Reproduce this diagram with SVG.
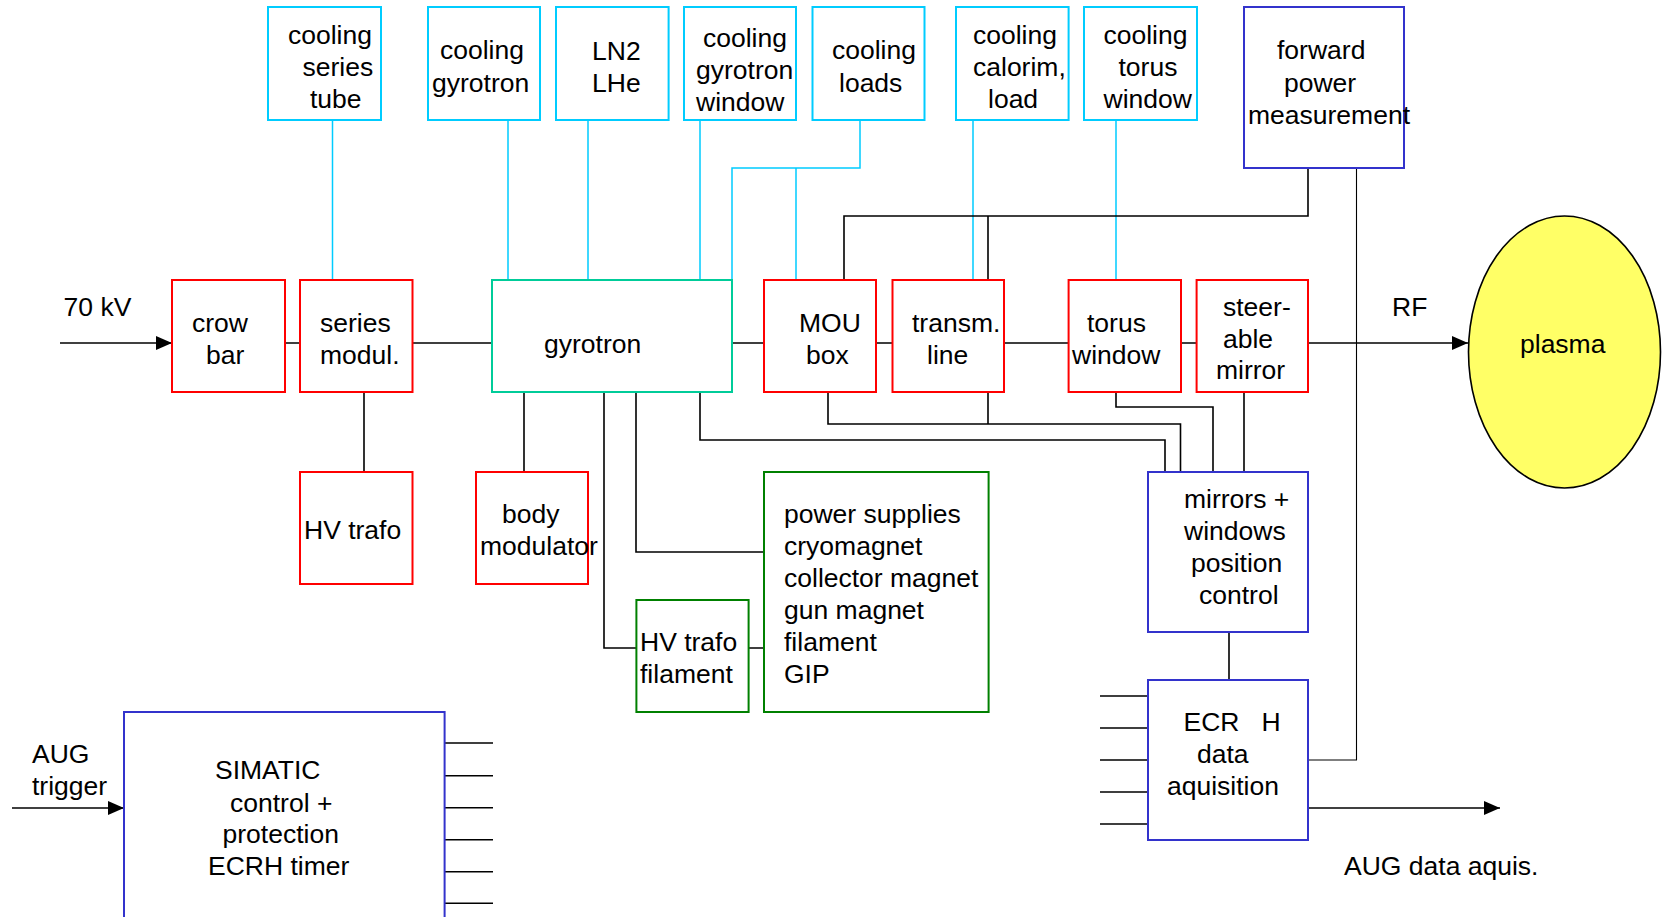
<svg xmlns="http://www.w3.org/2000/svg" width="1666" height="917" viewBox="0 0 1666 917">
<style>
text{font-family:"Liberation Sans",Arial,sans-serif;font-size:26.5px;fill:#000}
.cy{fill:#fff;stroke:#00CCFF;stroke-width:2}
.rd{fill:#fff;stroke:#FF0000;stroke-width:2}
.tl{fill:#fff;stroke:#00CC99;stroke-width:2}
.bl{fill:#fff;stroke:#3333CC;stroke-width:2}
.gr{fill:#fff;stroke:#008000;stroke-width:2}
.k{fill:none;stroke:#000;stroke-width:1.6}
.kt{fill:none;stroke:#000;stroke-width:1.1}
.c{fill:none;stroke:#00CCFF;stroke-width:1.5}
</style>
<defs>
<marker id="ah" viewBox="0 0 16 14" refX="16" refY="7" markerWidth="16" markerHeight="14" markerUnits="userSpaceOnUse" orient="auto">
<path d="M0,0 L16,7 L0,14 z" fill="#000"/>
</marker>
</defs>
<g id="connectors">
<path class="c" d="M332.5 120V280M508 120V280M588 120V280M700 120V280M860 120V168H732V280M796 168V280M973 120V280M1116 120V280"/>
<path class="k" d="M60 343H172" marker-end="url(#ah)"/>
<path class="k" d="M1308 343H1468" marker-end="url(#ah)"/>
<path class="k" d="M1308 808H1500" marker-end="url(#ah)"/>
<path class="k" d="M12 808H124" marker-end="url(#ah)"/>
<path class="k" d="M285 343H300M412.5 343H492M732 343H764M876 343H892.5M1004 343H1068.6M1181 343H1197"/>
<path class="k" d="M364 392V472M524 392V472M604 392V648H636.4M636 392V552H764M700 392V440H1165V472M828 392V424H1180.5V472M988 392V424M1116 392V407H1213V472M1244 392V472M1229 632V680M748.6 648H764"/>
<path class="k" d="M844 280V216H1308V168M988 280V216"/>
<path class="kt" d="M1356.5 168V760H1308"/>
<path class="k" d="M1100 696H1148M1100 728H1148M1100 760H1148M1100 792H1148M1100 824H1148"/>
<path class="k" d="M444.6 743H493M444.6 775.7H493M444.6 807.7H493M444.6 839.7H493M444.6 871.7H493M444.6 903.3H493"/>
</g>
<g id="label-70kv"><text x="63.6" y="316">70 kV</text></g>
<g id="label-rf"><text x="1392" y="316">RF</text></g>
<g id="label-aug-trigger"><text x="32" y="763">AUG</text><text x="32" y="795">trigger</text></g>
<g id="label-aug-data"><text x="1344" y="875">AUG data aquis.</text></g>
<g id="cooling-series-tube"><rect class="cy" x="268" y="7" width="113" height="113"/><text x="288" y="44">cooling</text><text x="302.5" y="76">series</text><text x="310" y="108">tube</text></g>
<g id="cooling-gyrotron"><rect class="cy" x="428" y="7" width="112" height="113"/><text x="440" y="59">cooling</text><text x="432" y="92">gyrotron</text></g>
<g id="ln2-lhe"><rect class="cy" x="556" y="7" width="112.6" height="113"/><text x="592" y="60">LN2</text><text x="592" y="92">LHe</text></g>
<g id="cooling-gyrotron-window"><rect class="cy" x="684" y="7" width="112" height="113"/><text x="703" y="47">cooling</text><text x="696" y="79">gyrotron</text><text x="696" y="111">window</text></g>
<g id="cooling-loads"><rect class="cy" x="812.5" y="7" width="112" height="113"/><text x="832" y="59">cooling</text><text x="839" y="92">loads</text></g>
<g id="cooling-calorim-load"><rect class="cy" x="956" y="7" width="112.6" height="113"/><text x="973" y="44">cooling</text><text x="973" y="76">calorim,</text><text x="988" y="108">load</text></g>
<g id="cooling-torus-window"><rect class="cy" x="1084" y="7" width="113" height="113"/><text x="1103.5" y="44">cooling</text><text x="1118.5" y="76">torus</text><text x="1103.5" y="108">window</text></g>
<g id="forward-power"><rect class="bl" x="1244" y="7" width="160" height="161"/><text x="1277" y="59">forward</text><text x="1284" y="92">power</text><text x="1248" y="124">measurement</text></g>
<g id="crow-bar"><rect class="rd" x="172" y="280" width="113" height="112"/><text x="192" y="332">crow</text><text x="206" y="364">bar</text></g>
<g id="series-modul"><rect class="rd" x="300" y="280" width="112.5" height="112"/><text x="320" y="332">series</text><text x="320" y="364">modul.</text></g>
<g id="gyrotron"><rect class="tl" x="492" y="280" width="240" height="112"/><text x="544" y="353">gyrotron</text></g>
<g id="mou-box"><rect class="rd" x="764" y="280" width="112" height="112"/><text x="799" y="332">MOU</text><text x="806" y="364">box</text></g>
<g id="transm-line"><rect class="rd" x="892.5" y="280" width="111.5" height="112"/><text x="912" y="332">transm.</text><text x="927" y="364">line</text></g>
<g id="torus-window"><rect class="rd" x="1068.6" y="280" width="112.4" height="112"/><text x="1087" y="332">torus</text><text x="1072" y="364">window</text></g>
<g id="steerable-mirror"><rect class="rd" x="1196.6" y="280" width="111.4" height="112"/><text x="1223" y="316">steer-</text><text x="1223" y="348">able</text><text x="1216" y="379">mirror</text></g>
<g id="plasma"><ellipse cx="1564.5" cy="352" rx="96" ry="136" fill="#FFFF66" stroke="#000" stroke-width="1.6"/><text x="1520" y="353">plasma</text></g>
<g id="hv-trafo"><rect class="rd" x="300" y="472" width="112.5" height="112"/><text x="304" y="539">HV trafo</text></g>
<g id="body-modulator"><rect class="rd" x="476" y="472" width="112" height="112"/><text x="502" y="523">body</text><text x="480" y="555">modulator</text></g>
<g id="power-supplies"><rect class="gr" x="764" y="472" width="224.6" height="240"/><text x="784" y="523">power supplies</text><text x="784" y="555">cryomagnet</text><text x="784" y="587">collector magnet</text><text x="784" y="619">gun magnet</text><text x="784" y="651">filament</text><text x="784" y="683">GIP</text></g>
<g id="hv-trafo-filament"><rect class="gr" x="636.4" y="600" width="112.2" height="112"/><text x="640" y="651">HV trafo</text><text x="640" y="683">filament</text></g>
<g id="mirrors-control"><rect class="bl" x="1148" y="472" width="160" height="160"/><text x="1184" y="508">mirrors +</text><text x="1184" y="540">windows</text><text x="1191" y="572">position</text><text x="1199" y="604">control</text></g>
<g id="ecrh-daq"><rect class="bl" x="1148" y="680" width="160" height="160"/><text x="1183.5" y="731" xml:space="preserve">ECR   H</text><text x="1197" y="763">data</text><text x="1167" y="795">aquisition</text></g>
<g id="simatic"><rect class="bl" x="124" y="712" width="320.6" height="230"/><text x="215" y="779">SIMATIC</text><text x="230" y="812">control +</text><text x="222.5" y="843">protection</text><text x="208" y="875">ECRH timer</text></g>
</svg>
